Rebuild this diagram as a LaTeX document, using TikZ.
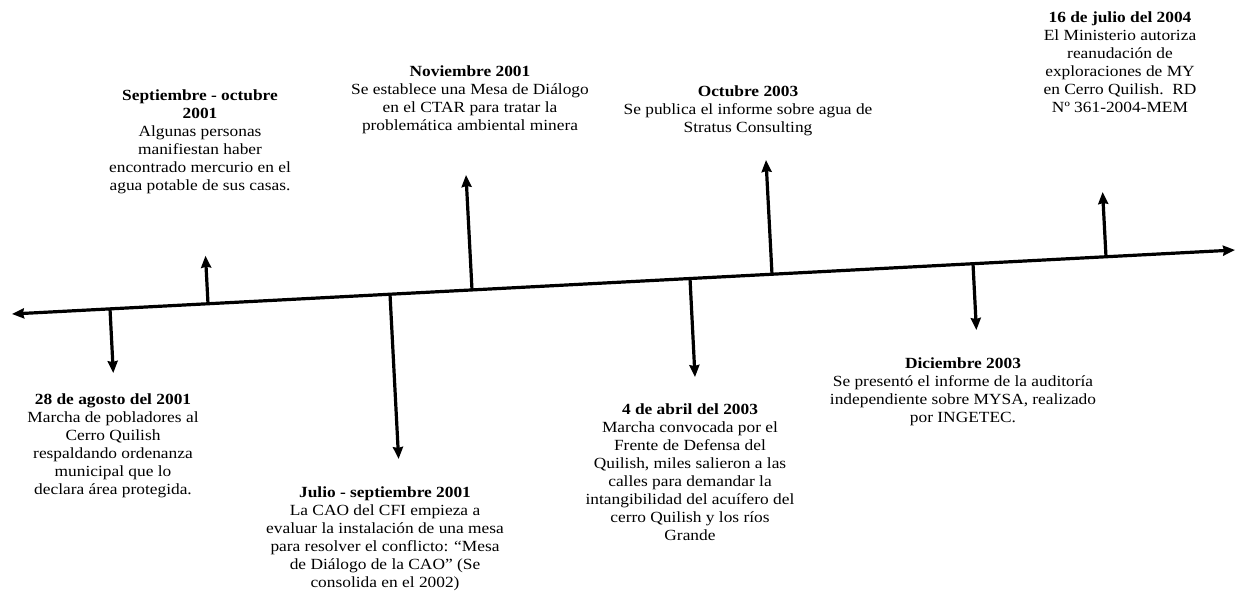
\documentclass[tikz,border=0pt]{standalone}
\usepackage{fontspec}
\setmainfont{Liberation Serif}[FakeStretch=1.12]
\usetikzlibrary{arrows.meta}
\begin{document}
\begin{tikzpicture}[x=1pt,y=-1pt,
  axisline/.style={line width=3.2pt, {Stealth[length=12pt,width=10pt,inset=1pt]}-{Stealth[length=12pt,width=10pt,inset=1pt]}},
  tick/.style={line width=3.2pt, -{Stealth[length=12pt,width=10pt,inset=1pt]}},
  evt/.style={align=center, inner sep=0pt, font=\fontsize{15.5}{18}\selectfont}]
\useasboundingbox (0,0) rectangle (1236,613);
% timeline
\coordinate (L) at (12,314);
\coordinate (R) at (1235,250);
\draw[axisline] (L) -- (R);
% tick bases on the line
\coordinate (b1) at (110,308.9);
\coordinate (b2) at (208,303.7);
\coordinate (b3) at (390,294.2);
\coordinate (b4) at (472,289.9);
\coordinate (b5) at (690,278.5);
\coordinate (b6) at (772,274.3);
\coordinate (b7) at (973,263.7);
\coordinate (b8) at (1106,256.8);
% tick tips
\coordinate (e1) at (113.3,373);
\coordinate (e2) at (205.5,255.7);
\coordinate (e3) at (398.6,459);
\coordinate (e4) at (466,175);
\coordinate (e5) at (695,377);
\coordinate (e6) at (766,160);
\coordinate (e7) at (976.4,330);
\coordinate (e8) at (1102.6,192);
\foreach \i in {1,...,8} {\draw[tick] (b\i) -- (e\i);}
% texts
\node[evt] (t1) at (113,446) {\textbf{28 de agosto del 2001}\\Marcha de pobladores al\\Cerro Quilish\\respaldando ordenanza\\municipal que lo\\declara área protegida.};
\node[evt] (t2) at (200,141.5) {\textbf{Septiembre - octubre}\\\textbf{2001}\\Algunas personas\\manifiestan haber\\encontrado mercurio en el\\agua potable de sus casas.};
\node[evt] (t3) at (385,538.5) {\textbf{Julio - septiembre 2001}\\La CAO del CFI empieza a\\evaluar la instalación de una mesa\\para resolver el conflicto: “Mesa\\de Diálogo de la CAO” (Se\\consolida en el 2002)};
\node[evt] (t4) at (470,99.5) {\textbf{Noviembre 2001}\\Se establece una Mesa de Diálogo\\en el CTAR para tratar la\\problemática ambiental minera};
\node[evt] (t5) at (690,472) {\textbf{4 de abril del 2003}\\Marcha convocada por el\\Frente de Defensa del\\Quilish, miles salieron a las\\calles para demandar la\\intangibilidad del acuífero del\\cerro Quilish y los ríos\\Grande};
\node[evt] (t6) at (748,110.5) {\textbf{Octubre 2003}\\Se publica el informe sobre agua de\\Stratus Consulting};
\node[evt] (t7) at (963,391.5) {\textbf{Diciembre 2003}\\Se presentó el informe de la auditoría\\independiente sobre MYSA, realizado\\por INGETEC.};
\node[evt] (t8) at (1120,62) {\textbf{16 de julio del 2004}\\El Ministerio autoriza\\reanudación de\\exploraciones de MY\\en Cerro Quilish.\ \ RD\\Nº 361-2004-MEM};
\end{tikzpicture}
\end{document}
